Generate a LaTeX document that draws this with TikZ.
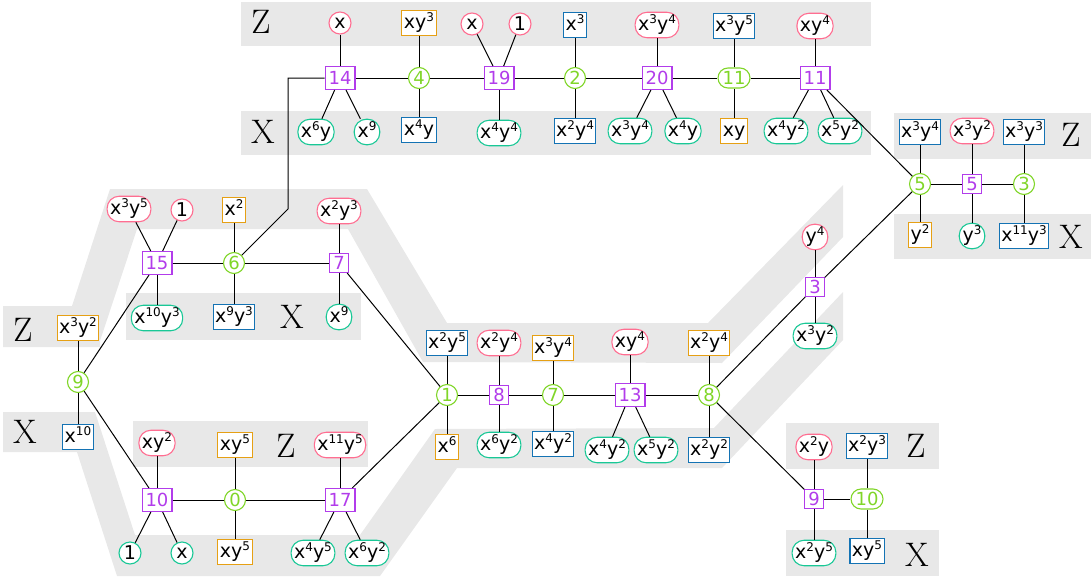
\documentclass[tikz,border=0pt]{standalone}
\usepackage{fontspec}
\newfontfamily\dv{DejaVu Sans}
\definecolor{cpk}{RGB}{255,110,145}
\definecolor{ctl}{RGB}{25,200,150}
\definecolor{cor}{RGB}{230,160,20}
\definecolor{cbl}{RGB}{20,115,180}
\definecolor{cpu}{RGB}{178,60,235}
\definecolor{cgr}{RGB}{128,214,40}
\definecolor{cband}{RGB}{232,232,232}
\newcommand\su[1]{\raisebox{7pt}{\fontsize{12}{12}\selectfont#1}}
\tikzset{
 base/.style={font=\dv\fontsize{19}{19}\selectfont, fill=white, line width=1.1pt},
 recbox/.style={base, rectangle, inner xsep=2pt, inner ysep=2.5pt, text height=16pt, text depth=4.5pt},
 orr/.style={recbox, draw=cor},
 blr/.style={recbox, draw=cbl},
 pill/.style={base, rectangle, rounded corners=12pt, inner xsep=3pt, inner ysep=2.5pt, text height=16pt, text depth=4.5pt, minimum width=25.5pt},
 pp/.style={pill, draw=cpk},
 tp/.style={pill, draw=ctl},
 pc/.style={base, circle, draw=cpk, minimum size=22pt, inner sep=0pt},
 tc/.style={base, circle, draw=ctl, minimum size=22pt, inner sep=0pt},
 pu/.style={font=\dv\fontsize{18}{18}\selectfont, text=cpu, draw=cpu, fill=white, line width=1.1pt, rectangle, inner xsep=3.5pt, inner ysep=3pt, text height=13pt, text depth=0pt},
 tall/.style={minimum height=23pt},
 gc/.style={font=\dv\fontsize{18}{18}\selectfont, text=cgr, draw=cgr, fill=white, line width=1.1pt, circle, minimum size=21pt, inner sep=0pt},
 gp/.style={font=\dv\fontsize{18}{18}\selectfont, text=cgr, draw=cgr, fill=white, line width=1.1pt, rectangle, rounded corners=10pt, minimum height=20pt, minimum width=32pt, inner sep=0pt, text height=13pt, text depth=0pt},
 lab/.style={font=\fontsize{34}{34}\selectfont, inner sep=0pt},
 cn/.style={line width=1pt, black},
 band/.style={fill=cband, draw=none},
}
\begin{document}
\begin{tikzpicture}[x=1pt,y=-1pt]
\useasboundingbox (0,0) rectangle (1091,578);
% bands
\fill[band] (241,2) rectangle (871,46);
\fill[band] (241,111) rectangle (871,155);
\fill[band] (894,113) rectangle (1091,159);
\fill[band] (894,214) rectangle (1091,259);
\fill[band] (126,293) rectangle (361,340);
\fill[band] (133,421) rectangle (368,467);
\fill[band] (786,423) rectangle (939,469);
\fill[band] (786,530) rectangle (939,576);
\fill[band] (3,306) -- (72,306) -- (110,189) -- (367,189) -- (447,323) -- (708,323) -- (843,185) -- (843,237) -- (722,363) -- (423,362) -- (348,229) -- (137,229) -- (100,341) -- (100,347) -- (3,347) -- cycle;
\fill[band] (3,412) -- (95,412) -- (135,535) -- (360,535) -- (435,429) -- (714,428) -- (843,292) -- (843,340) -- (722,468) -- (457,468) -- (380,576) -- (117,576) -- (77,452) -- (3,452) -- cycle;
% labels
\node[lab] (LZ1) at (261,22) {Z};
\node[lab] (LX1) at (263,132) {X};
\node[lab] (LZ2) at (1071,135) {Z};
\node[lab] (LX2) at (1071,237) {X};
\node[lab] (LZ3) at (23,330) {Z};
\node[lab] (LX3) at (25,432) {X};
\node[lab] (LX4) at (292,317) {X};
\node[lab] (LZ4) at (286,446) {Z};
\node[lab] (LZ5) at (916,446) {Z};
\node[lab] (LX5) at (917,555) {X};
% top section
\node[pc] (tz1) at (340,23) {x};
\node[orr] (tz2) at (419,23) {xy\su3};
\node[pc] (tz3) at (472,24) {x};
\node[pc] (tz4) at (520,24) {1};
\node[blr] (tz5) at (575,25) {x\su3};
\node[pp] (tz6) at (657,25) {x\su3y\su4};
\node[blr] (tz7) at (734,26) {x\su3y\su5};
\node[pp] (tz8) at (815,26) {xy\su4};
\node[pu,tall] (p14) at (340,78) {14};
\node[gc] (g4) at (419,78) {4};
\node[pu,tall] (p19) at (499,78) {19};
\node[gc] (g2) at (575,78) {2};
\node[pu,tall] (p20) at (657,78) {20};
\node[gp] (g11) at (734,78) {11};
\node[pu,tall] (p11) at (815,78) {11};
\node[tp] (tx1) at (316,132) {x\su6y};
\node[tp] (tx2) at (367,132) {x\su9};
\node[blr] (tx3) at (419,130) {x\su4y};
\node[tp] (tx4) at (499,133) {x\su4y\su4};
\node[blr] (tx5) at (575,131) {x\su2y\su4};
\node[tp] (tx6) at (630,131) {x\su3y\su4};
\node[tp] (tx7) at (683,131) {x\su4y};
\node[orr] (tx8) at (734,131) {xy};
\node[tp] (tx9) at (786,131) {x\su4y\su2};
\node[tp] (tx10) at (840,131) {x\su5y\su2};
% right section
\node[gc] (g5) at (920,184) {5};
\node[pu] (p5) at (972,184) {5};
\node[gc] (g3) at (1024,184) {3};
\node[blr] (rz1) at (920,132) {x\su3y\su4};
\node[pp] (rz2) at (972,131) {x\su3y\su2};
\node[blr] (rz3) at (1024,132) {x\su3y\su3};
\node[orr] (rx1) at (920,235) {y\su2};
\node[tp] (rx2) at (972,236) {y\su3};
\node[blr] (rx3) at (1024,236) {x\su{11}y\su3};
% left section
\node[pu,tall] (p15) at (157,263) {15};
\node[gc] (g6) at (234,263) {6};
\node[pu] (p7) at (339,263) {7};
\node[pp] (lz1) at (129,209) {x\su3y\su5};
\node[pc] (lz2) at (182,210) {1};
\node[orr] (lz3) at (234,210) {x\su2};
\node[pp] (lz4) at (339,211) {x\su2y\su3};
\node[tp] (lx1) at (157,318) {x\su{10}y\su3};
\node[blr] (lx2) at (234,317) {x\su9y\su3};
\node[tp] (lx3) at (339,317) {x\su9};
\node[gc] (g9) at (78,382) {9};
\node[orr] (a1) at (78,328) {x\su3y\su2};
\node[blr] (a2) at (78,437) {x\su{10}};
\node[pu,tall] (p10) at (157,500) {10};
\node[gc] (g0) at (235,500) {0};
\node[pu,tall] (p17) at (340,500) {17};
\node[pp] (bz1) at (157,443) {xy\su2};
\node[orr] (bz2) at (235,445) {xy\su5};
\node[pp] (bz3) at (340,445) {x\su{11}y\su5};
\node[tc] (bx1) at (130,553) {1};
\node[tc] (bx2) at (182,553) {x};
\node[orr] (bx3) at (235,552) {xy\su5};
\node[tp] (bx4) at (313,553) {x\su4y\su5};
\node[tp] (bx5) at (367,553) {x\su6y\su2};
% middle
\node[gc] (g1) at (447,395) {1};
\node[pu] (p8) at (499,395) {8};
\node[gc] (g7) at (553,395) {7};
\node[pu,tall] (p13) at (630,395) {13};
\node[gc] (g8) at (709,395) {8};
\node[blr] (mz1) at (447,343) {x\su2y\su5};
\node[pp] (mz2) at (499,343) {x\su2y\su4};
\node[orr] (mz3) at (553,348) {x\su3y\su4};
\node[pp] (mz4) at (630,342) {xy\su4};
\node[orr] (mz5) at (709,343) {x\su2y\su4};
\node[orr] (mx1) at (447,447) {x\su6};
\node[tp] (mx2) at (499,445) {x\su6y\su2};
\node[blr] (mx3) at (553,444) {x\su4y\su2};
\node[tp] (mx4) at (607,450) {x\su4y\su2};
\node[tp] (mx5) at (656,450) {x\su5y\su2};
\node[blr] (mx6) at (709,450) {x\su2y\su2};
% 3 region
\node[pu] (p3) at (815,287) {3};
\node[pp] (ry1) at (815,237) {y\su4};
\node[tp] (ry2) at (815,336) {x\su3y\su2};
% bottom right
\node[pu] (p9) at (814,499) {9};
\node[gp] (g10) at (867,499) {10};
\node[pp] (brz1) at (814,447) {x\su2y};
\node[blr] (brz2) at (867,446) {x\su2y\su3};
\node[tp] (brx1) at (814,553) {x\su2y\su5};
\node[blr] (brx2) at (867,551) {xy\su5};
% corner coordinates
\coordinate (c1) at (288,78);
\coordinate (c2) at (288,209);
% edges top
\draw[cn] (p14) -- (c1) -- (c2) -- (g6);
\draw[cn] (p14) -- (g4) -- (p19) -- (g2) -- (p20) -- (g11) -- (p11);
\draw[cn] (p14) -- (tz1); \draw[cn] (p14) -- (tx1); \draw[cn] (p14) -- (tx2);
\draw[cn] (g4) -- (tz2); \draw[cn] (g4) -- (tx3);
\draw[cn] (p19) -- (tz3); \draw[cn] (p19) -- (tz4); \draw[cn] (p19) -- (tx4);
\draw[cn] (g2) -- (tz5); \draw[cn] (g2) -- (tx5);
\draw[cn] (p20) -- (tz6); \draw[cn] (p20) -- (tx6); \draw[cn] (p20) -- (tx7);
\draw[cn] (g11) -- (tz7); \draw[cn] (g11) -- (tx8);
\draw[cn] (p11) -- (tz8); \draw[cn] (p11) -- (tx9); \draw[cn] (p11) -- (tx10);
\draw[cn] (p11) -- (g5);
% right
\draw[cn] (g5) -- (p5) -- (g3);
\draw[cn] (g5) -- (rz1); \draw[cn] (g5) -- (rx1);
\draw[cn] (p5) -- (rz2); \draw[cn] (p5) -- (rx2);
\draw[cn] (g3) -- (rz3); \draw[cn] (g3) -- (rx3);
\draw[cn] (g5) -- (p3);
% left
\draw[cn] (p15) -- (g6) -- (p7);
\draw[cn] (p15) -- (lz1); \draw[cn] (p15) -- (lz2); \draw[cn] (p15) -- (lx1);
\draw[cn] (g6) -- (lz3); \draw[cn] (g6) -- (lx2);
\draw[cn] (p7) -- (lz4); \draw[cn] (p7) -- (lx3);
\draw[cn] (p7) -- (g1);
\draw[cn] (g9) -- (a1); \draw[cn] (g9) -- (a2);
\draw[cn] (g9) -- (p15); \draw[cn] (g9) -- (p10);
\draw[cn] (p10) -- (g0) -- (p17);
\draw[cn] (p10) -- (bz1); \draw[cn] (p10) -- (bx1); \draw[cn] (p10) -- (bx2);
\draw[cn] (g0) -- (bz2); \draw[cn] (g0) -- (bx3);
\draw[cn] (p17) -- (bz3); \draw[cn] (p17) -- (bx4); \draw[cn] (p17) -- (bx5);
\draw[cn] (p17) -- (g1);
% middle
\draw[cn] (g1) -- (p8) -- (g7) -- (p13) -- (g8);
\draw[cn] (g1) -- (mz1); \draw[cn] (g1) -- (mx1);
\draw[cn] (p8) -- (mz2); \draw[cn] (p8) -- (mx2);
\draw[cn] (g7) -- (mz3); \draw[cn] (g7) -- (mx3);
\draw[cn] (p13) -- (mz4); \draw[cn] (p13) -- (mx4); \draw[cn] (p13) -- (mx5);
\draw[cn] (g8) -- (mz5); \draw[cn] (g8) -- (mx6);
\draw[cn] (g8) -- (p3); \draw[cn] (g8) -- (p9);
\draw[cn] (p3) -- (ry1); \draw[cn] (p3) -- (ry2);
% bottom right
\draw[cn] (p9) -- (g10);
\draw[cn] (p9) -- (brz1); \draw[cn] (p9) -- (brx1);
\draw[cn] (g10) -- (brz2); \draw[cn] (g10) -- (brx2);
\end{tikzpicture}
\end{document}
